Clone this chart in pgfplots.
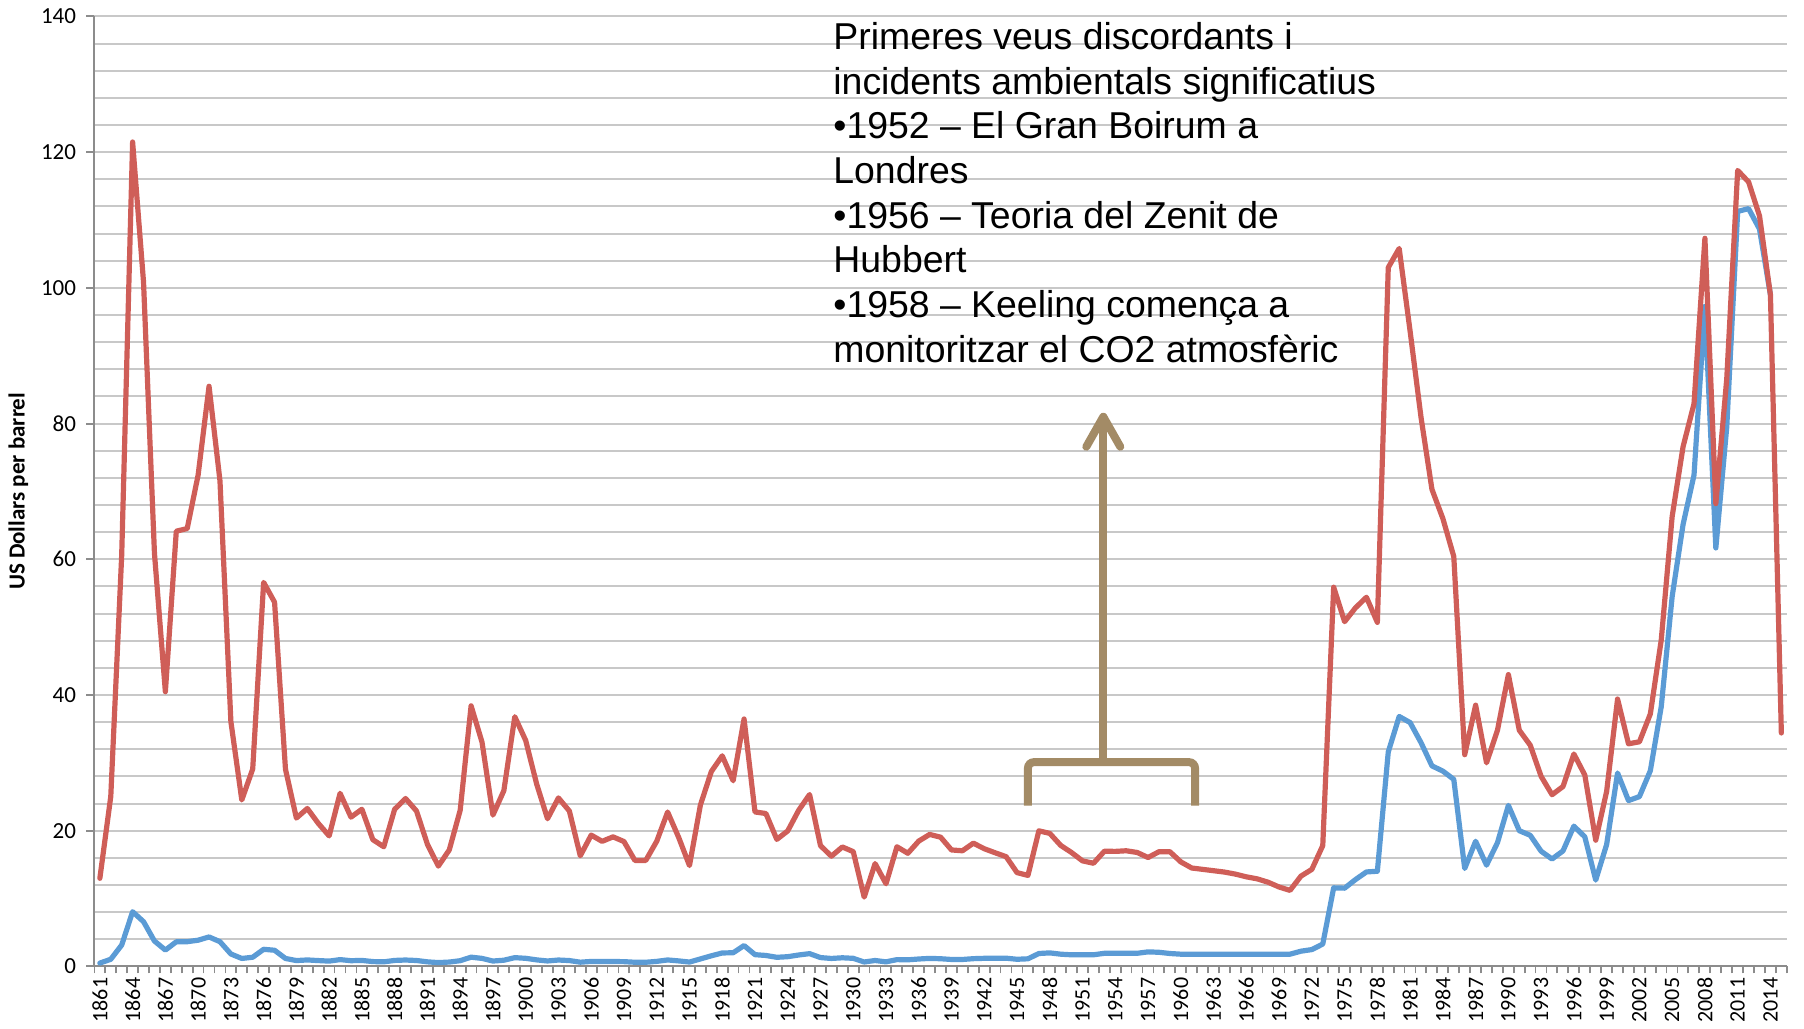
\documentclass[border=0pt]{standalone}
\usepackage{pgfplots}
\pgfplotsset{compat=1.18}
\usepackage{pgfplotstable}
\usepackage{fontspec}
\setmainfont{Carlito}
\newfontfamily\arialfont{Liberation Sans}
\definecolor{redline}{RGB}{207,94,88}
\definecolor{blueline}{RGB}{91,155,213}
\definecolor{arrowc}{RGB}{163,139,102}
\definecolor{gridc}{RGB}{200,200,200}
\definecolor{axisc}{RGB}{140,140,140}

\pgfplotstableread{
year value
1861 12.98
1862 25.05
1863 60.58
1864 121.49
1865 100.85
1866 60.89
1867 40.48
1868 64.13
1869 64.53
1870 72.41
1871 85.49
1872 71.57
1873 36.08
1874 24.53
1875 29.10
1876 56.59
1877 53.67
1878 29.06
1879 21.86
1880 23.27
1881 21.09
1882 19.23
1883 25.51
1884 22.00
1885 23.16
1886 18.68
1887 17.63
1888 23.16
1889 24.74
1890 22.90
1891 17.99
1892 14.78
1893 17.16
1894 23.00
1895 38.40
1896 33.05
1897 22.30
1898 25.90
1899 36.80
1900 33.30
1901 26.90
1902 21.76
1903 24.83
1904 22.90
1905 16.30
1906 19.35
1907 18.43
1908 19.09
1909 18.40
1910 15.62
1911 15.62
1912 18.44
1913 22.75
1914 19.05
1915 14.86
1916 23.77
1917 28.71
1918 31.03
1919 27.36
1920 36.46
1921 22.76
1922 22.53
1923 18.72
1924 19.97
1925 23.00
1926 25.33
1927 17.79
1928 16.24
1929 17.60
1930 16.91
1931 10.21
1932 15.15
1933 12.18
1934 17.63
1935 16.67
1936 18.47
1937 19.45
1938 19.04
1939 17.16
1940 17.04
1941 18.16
1942 17.34
1943 16.74
1944 16.17
1945 13.82
1946 13.41
1947 19.98
1948 19.60
1949 17.83
1950 16.77
1951 15.55
1952 15.20
1953 16.97
1954 16.95
1955 17.04
1956 16.79
1957 16.05
1958 16.90
1959 16.90
1960 15.40
1961 14.50
1962 14.30
1963 14.10
1964 13.90
1965 13.60
1966 13.20
1967 12.90
1968 12.40
1969 11.70
1970 11.20
1971 13.30
1972 14.30
1973 17.80
1974 55.88
1975 50.80
1976 52.85
1977 54.40
1978 50.70
1979 103.00
1980 105.80
1981 93.60
1982 80.90
1983 70.30
1984 66.00
1985 60.40
1986 31.20
1987 38.50
1988 30.00
1989 34.80
1990 43.00
1991 34.80
1992 32.60
1993 28.00
1994 25.30
1995 26.50
1996 31.30
1997 28.20
1998 18.60
1999 25.80
2000 39.40
2001 32.80
2002 33.10
2003 37.20
2004 48.10
2005 66.30
2006 76.60
2007 82.90
2008 107.30
2009 68.20
2010 86.60
2011 117.30
2012 115.60
2013 110.60
2014 98.95
2015 34.40
}\realdata

\pgfplotstableread{
year value
1861 0.49
1862 1.05
1863 3.15
1864 8.06
1865 6.59
1866 3.74
1867 2.41
1868 3.62
1869 3.64
1870 3.86
1871 4.34
1872 3.64
1873 1.83
1874 1.17
1875 1.35
1876 2.52
1877 2.38
1878 1.17
1879 0.86
1880 0.95
1881 0.86
1882 0.78
1883 1.00
1884 0.84
1885 0.88
1886 0.71
1887 0.67
1888 0.88
1889 0.94
1890 0.87
1891 0.67
1892 0.56
1893 0.64
1894 0.84
1895 1.36
1896 1.18
1897 0.79
1898 0.91
1899 1.29
1900 1.19
1901 0.96
1902 0.80
1903 0.94
1904 0.86
1905 0.62
1906 0.73
1907 0.72
1908 0.72
1909 0.70
1910 0.61
1911 0.61
1912 0.74
1913 0.95
1914 0.81
1915 0.64
1916 1.10
1917 1.56
1918 1.98
1919 2.01
1920 3.07
1921 1.73
1922 1.61
1923 1.34
1924 1.43
1925 1.68
1926 1.88
1927 1.30
1928 1.17
1929 1.27
1930 1.19
1931 0.65
1932 0.87
1933 0.67
1934 1.00
1935 0.97
1936 1.09
1937 1.18
1938 1.13
1939 1.02
1940 1.02
1941 1.14
1942 1.19
1943 1.20
1944 1.21
1945 1.05
1946 1.12
1947 1.90
1948 1.99
1949 1.80
1950 1.71
1951 1.71
1952 1.71
1953 1.93
1954 1.93
1955 1.93
1956 1.93
1957 2.14
1958 2.08
1959 1.90
1960 1.80
1961 1.80
1962 1.80
1963 1.80
1964 1.80
1965 1.80
1966 1.80
1967 1.80
1968 1.80
1969 1.80
1970 1.80
1971 2.24
1972 2.48
1973 3.29
1974 11.58
1975 11.53
1976 12.80
1977 13.92
1978 14.02
1979 31.61
1980 36.83
1981 35.93
1982 32.97
1983 29.55
1984 28.78
1985 27.56
1986 14.43
1987 18.44
1988 14.92
1989 18.23
1990 23.73
1991 20.00
1992 19.32
1993 16.97
1994 15.82
1995 17.02
1996 20.67
1997 19.09
1998 12.72
1999 17.97
2000 28.50
2001 24.44
2002 25.02
2003 28.83
2004 38.27
2005 54.52
2006 65.14
2007 72.39
2008 97.26
2009 61.67
2010 79.50
2011 111.26
2012 111.67
2013 108.66
2014 98.95
}\nominaldata

\begin{document}
\begin{tikzpicture}
\begin{axis}[
  at={(47.2bp,31.3bp)}, anchor=south west,
  scale only axis, width=846.2bp, height=475bp,
  xmin=1860.5, xmax=2015.5, ymin=0, ymax=140,
  axis x line*=bottom, axis y line*=left,
  axis line style={axisc, line width=1bp},
  tick align=outside,
  xtick={1861,1864,1867,1870,1873,1876,1879,1882,1885,1888,1891,1894,1897,1900,1903,1906,1909,1912,1915,1918,1921,1924,1927,1930,1933,1936,1939,1942,1945,1948,1951,1954,1957,1960,1963,1966,1969,1972,1975,1978,1981,1984,1987,1990,1993,1996,1999,2002,2005,2008,2011,2014},
  xticklabels={1861,1864,1867,1870,1873,1876,1879,1882,1885,1888,1891,1894,1897,1900,1903,1906,1909,1912,1915,1918,1921,1924,1927,1930,1933,1936,1939,1942,1945,1948,1951,1954,1957,1960,1963,1966,1969,1972,1975,1978,1981,1984,1987,1990,1993,1996,1999,2002,2005,2008,2011,2014},
  minor xtick={1860.5,1861.5,...,2015.6},
  ytick={0,20,40,60,80,100,120,140},
  minor ytick={4,8,...,136},
  major x tick style={draw=none},
  minor x tick style={axisc, line width=0.9bp},
  major y tick style={axisc, line width=1bp},
  minor y tick style={draw=none},
  major tick length=4bp, minor tick length=3.5bp,
  ymajorgrids, yminorgrids,
  major grid style={gridc, line width=1bp},
  minor grid style={gridc, line width=1bp},
  /pgf/number format/1000 sep={},
  /pgf/number format/assume math mode=true,
  xticklabel style={rotate=90, anchor=east, font=\fontsize{11bp}{12bp}\selectfont, inner sep=1.5bp},
  yticklabel style={font=\fontsize{11.5bp}{12bp}\selectfont, inner sep=2bp, xshift=-3bp},
  ylabel={US Dollars per barrel},
  every axis y label/.style={at={(axis description cs:-0.045,0.5)}, rotate=90, anchor=center, font=\bfseries\fontsize{11.5bp}{12bp}\selectfont},
  clip=false,
]
\addplot[blueline, line width=2.6bp, line join=round, line cap=round] table[x=year,y=value]{\nominaldata};
\addplot[redline, line width=2.6bp, line join=round, line cap=round] table[x=year,y=value]{\realdata};
\draw[arrowc, line width=4bp, rounded corners=3bp] (axis cs:1946.0,23.7) -- (axis cs:1946.0,30.1) -- (axis cs:1961.3,30.1) -- (axis cs:1961.3,23.7);
\draw[arrowc, line width=4bp] (axis cs:1952.9,30.1) -- (axis cs:1952.9,81.0);
\draw[arrowc, line width=4bp, line cap=round, line join=round] ([xshift=-8.5bp,yshift=-15bp]axis cs:1952.9,81.0) -- (axis cs:1952.9,81.0) -- ([xshift=8.5bp,yshift=-15bp]axis cs:1952.9,81.0);
\end{axis}
\begin{scope}[every node/.style={anchor=base west, inner sep=0pt, font=\arialfont\fontsize{18.7bp}{22.4bp}\selectfont}]
\node at (416.5bp,489.75bp) {Primeres veus discordants i};
\node at (416.5bp,467.4bp) {incidents ambientals significatius};
\node at (416.5bp,445.05bp) {•1952 – El Gran Boirum a};
\node at (416.5bp,422.7bp) {Londres};
\node at (416.5bp,400.35bp) {•1956 – Teoria del Zenit de};
\node at (416.5bp,378bp) {Hubbert};
\node at (416.5bp,355.65bp) {•1958 – Keeling comença a};
\node at (416.5bp,333.3bp) {monitoritzar el CO2 atmosfèric};
\end{scope}
\pgfresetboundingbox
\path[use as bounding box] (0,0) rectangle (902bp,514.5bp);
\end{tikzpicture}
\end{document}
